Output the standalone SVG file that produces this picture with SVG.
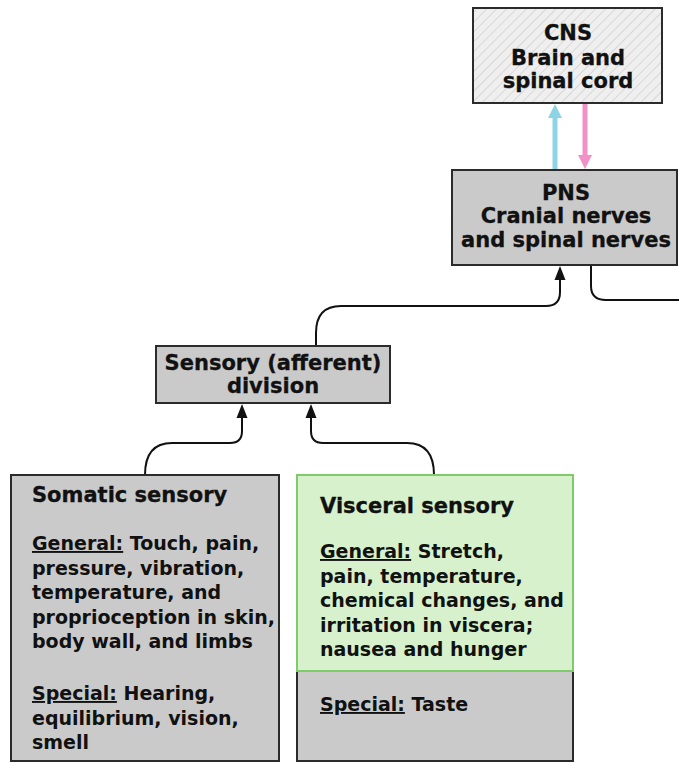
<svg xmlns="http://www.w3.org/2000/svg" width="679" height="763" viewBox="0 0 679 763">
<style>
.box{fill:#cacaca;stroke:#2b2b2b;stroke-width:2}
.t{font-family:"DejaVu Sans",sans-serif;font-weight:bold;fill:#111}
.h{font-size:21px;stroke:#111;stroke-width:0.3}
.b{font-size:19px}
.c{text-anchor:middle}
.con{fill:none;stroke:#111;stroke-width:2}
.u{text-decoration:underline}
</style>
<defs>
<pattern id="hatch" width="7" height="7" patternUnits="userSpaceOnUse" patternTransform="rotate(45)">
<rect width="7" height="7" fill="#efefef"/>
<line x1="0" y1="0" x2="0" y2="7" stroke="#cfcfcf" stroke-width="1.5"/>
</pattern>
</defs>

<g id="connectors">
<line x1="555" y1="170" x2="555" y2="115" stroke="#8fd4e6" stroke-width="5"/>
<path d="M548,118 L555,104 L562,118 Z" fill="#8fd4e6"/>
<line x1="585" y1="103" x2="585" y2="158" stroke="#f290c8" stroke-width="5"/>
<path d="M578,155 L585,169 L592,155 Z" fill="#f290c8"/>
<path class="con" d="M316,346 L316,333 Q316,306 341,306 L546,306 Q560,306 560,292 L560,278"/>
<path d="M554.5,280 L560,266 L565.5,280 Z" fill="#111"/>
<path class="con" d="M591,265 L591,286 Q591,300 606,300 L679,300"/>
<path class="con" d="M145,475 Q145,443 172,443 L230,443 Q242,443 242,431 L242,416"/>
<path d="M236.5,418 L242,404 L247.5,418 Z" fill="#111"/>
<path class="con" d="M434,475 Q434,443 407,443 L323,443 Q311,443 311,431 L311,416"/>
<path d="M305.5,418 L311,404 L316.5,418 Z" fill="#111"/>
</g>

<g id="cns">
<rect x="473" y="8" width="189" height="95" fill="url(#hatch)" stroke="#2b2b2b" stroke-width="2"/>
<text class="t h c" x="568" y="40">CNS</text>
<text class="t h c" x="568" y="65">Brain and</text>
<text class="t h c" x="568" y="88">spinal cord</text>
</g>

<g id="pns">
<rect class="box" x="452" y="170" width="225" height="95"/>
<text class="t h c" x="566" y="200">PNS</text>
<text class="t h c" x="566" y="223">Cranial nerves</text>
<text class="t h c" x="566" y="247">and spinal nerves</text>
</g>

<g id="sensory">
<rect class="box" x="156" y="346" width="234" height="57"/>
<text class="t h c" x="273" y="370">Sensory (afferent)</text>
<text class="t h c" x="273" y="393">division</text>
</g>

<g id="somatic">
<rect class="box" x="11" y="475" width="268" height="286"/>
<text class="t h" x="32" y="502">Somatic sensory</text>
<text class="t b" x="32" y="550"><tspan class="u">General:</tspan> Touch, pain,</text>
<text class="t b" x="32" y="574.5">pressure, vibration,</text>
<text class="t b" x="32" y="599">temperature, and</text>
<text class="t b" x="32" y="623.5">proprioception in skin,</text>
<text class="t b" x="32" y="648">body wall, and limbs</text>
<text class="t b" x="32" y="700"><tspan class="u">Special:</tspan> Hearing,</text>
<text class="t b" x="32" y="724.5">equilibrium, vision,</text>
<text class="t b" x="32" y="749">smell</text>
</g>

<g id="visceral">
<rect x="297" y="671" width="276" height="90" fill="#cacaca" stroke="#2b2b2b" stroke-width="2"/>
<rect x="297" y="475" width="276" height="196" fill="#d6f1cb" stroke="#7fcb6c" stroke-width="2"/>
<text class="t h" x="320" y="513">Visceral sensory</text>
<text class="t b" x="320" y="558"><tspan class="u">General:</tspan> Stretch,</text>
<text class="t b" x="320" y="582.5">pain, temperature,</text>
<text class="t b" x="320" y="607">chemical changes, and</text>
<text class="t b" x="320" y="631.5">irritation in viscera;</text>
<text class="t b" x="320" y="656">nausea and hunger</text>
<text class="t b" x="320" y="711"><tspan class="u">Special:</tspan> Taste</text>
</g>
</svg>
